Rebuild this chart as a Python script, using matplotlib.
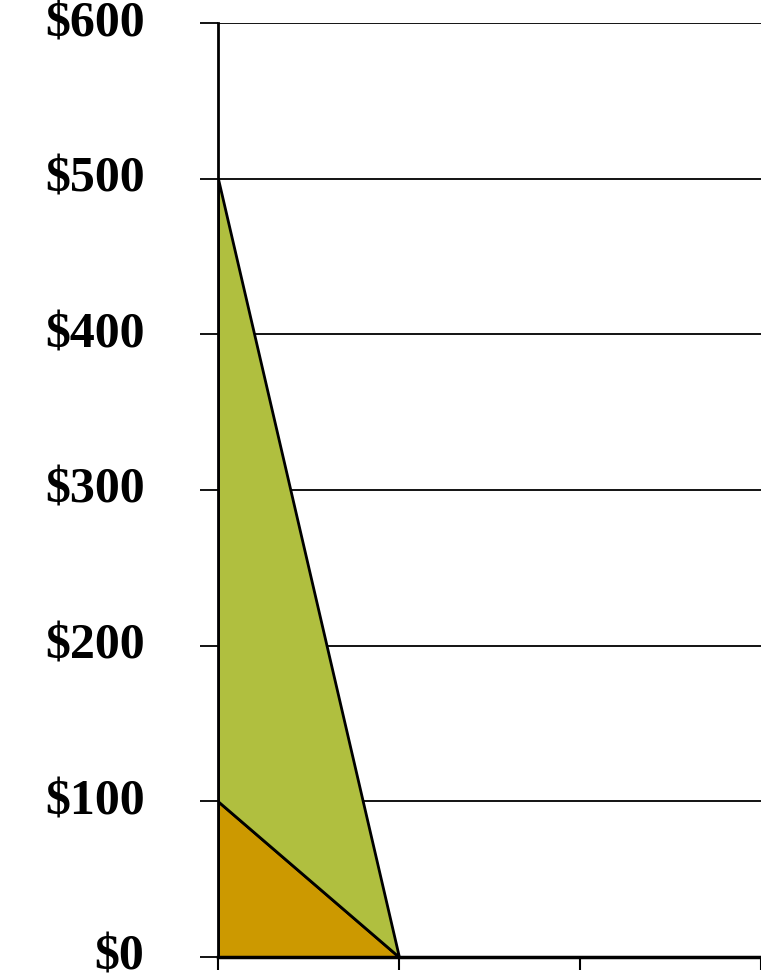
import numpy as np
import matplotlib.pyplot as plt

# data
x_idx = [0, 1, 2, 3]
bottom_series = [100, 0, 0, 0]
top_series = [400, 0, 0, 0]
y_ticks = [0, 100, 200, 300, 400, 500, 600]
y_labels = [f"${v}" for v in y_ticks]

colors = ["#CC9900", "#B0BF3F"]

fig = plt.figure(figsize=(7.61, 9.78), dpi=100)
ax = fig.add_axes([218 / 761, 20 / 978, 1 - 218 / 761, 934 / 978])

ax.stackplot(x_idx, bottom_series, top_series, colors=colors,
             edgecolor="black", linewidth=2, zorder=3)

ax.set_ylim(0, 600)
ax.set_xlim(0, (761 - 218) / 182.5)
ax.set_yticks(y_ticks)
ax.set_yticklabels(y_labels, fontfamily="Liberation Serif", fontweight="bold",
                   fontsize=36)
ax.set_xticks(x_idx)
ax.set_xticklabels([])
ax.yaxis.grid(True, color="black", lw=1.3, zorder=1)
ax.set_axisbelow(True)
ax.tick_params(axis="y", length=13, width=1.3, pad=40, color="black")
ax.tick_params(axis="x", length=9, width=1.5, color="black")
for lbl in ax.get_yticklabels():
    lbl.set_horizontalalignment("right")
    lbl.set_verticalalignment("center")

for side in ["top", "right"]:
    ax.spines[side].set_visible(False)
ax.spines["left"].set_linewidth(2)
ax.spines["bottom"].set_linewidth(2.5)
ax.spines["left"].set_zorder(4)
ax.spines["bottom"].set_zorder(4)

fig.savefig("out.png", dpi=100)
